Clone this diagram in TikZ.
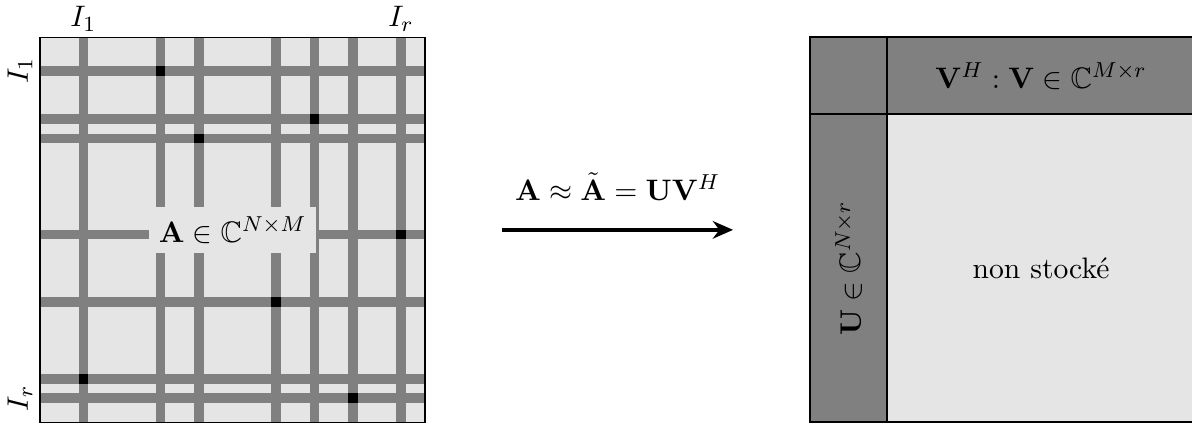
\documentclass[tikz,border=0pt,11pt]{standalone}
\usepackage{amssymb}
\usepackage{amsmath}
\usetikzlibrary{arrows.meta, positioning, calc}

\begin{document}
\begin{tikzpicture}[x=0.5cm, y=0.5cm,
        bande/.style={fill=gray},
        pivot/.style={fill=black},
        bloc/.style={draw=black, thick},
        fleche/.style={-{Stealth[length=7.5pt, width=6.5pt]}, line width=1.5pt}]
    \useasboundingbox (-1.04,-0.03) rectangle (29.92,10.97);
    % matrice complete A
    \fill[gray!20] (0,0) rectangle (10,10);
    \foreach \c in {1,3,4,6,7,8,9.25} \fill[bande] (\c,0) rectangle ++(0.25,10);
    \foreach \r in {0.5,1,3,4.75,7.25,7.75,9} \fill[bande] (0,\r) rectangle ++(10,0.25);
    \foreach \c/\r in {3/9, 7/7.75, 4/7.25, 9.25/4.75, 6/3, 1/1, 8/0.5}
        \fill[pivot] (\c,\r) rectangle ++(0.25,0.25);
    \draw[semithick] (0,0) rectangle (10,10);
    \node[fill=gray!20] (matA) at (5,5) {$\mathbf{A}\in\mathbb{C}^{N\times M}$};
    \node[anchor=base] (colI1) at (1.125,10.27) {$I_1$};
    \node[anchor=base] (colIr) at (9.375,10.27) {$I_r$};
    \node[rotate=90] (ligI1) at (-0.52,9.125) {$I_1$};
    \node[rotate=90] (ligIr) at (-0.52,0.625) {$I_r$};
    % approximation
    \coordinate (dep) at (12,5);
    \coordinate (arr) at (18,5);
    \draw[fleche] (dep) -- node[above=6.5pt] (approx) {$\mathbf{A}\approx\tilde{\mathbf{A}}=\mathbf{U}\mathbf{V}^H$} (arr);
    % matrice compressee
    \fill[gray] (20,0) rectangle (30,10);
    \fill[gray!20] (22,0) rectangle (30,8);
    \draw[bloc] (20,0) rectangle (30,10);
    \draw[bloc] (22,0) -- (22,10);
    \draw[bloc] (20,8) -- (30,8);
    \node (matV) at (26,9) {$\mathbf{V}^H:\mathbf{V}\in\mathbb{C}^{M\times r}$};
    \node[rotate=90] (matU) at (21,4) {$\mathbf{U}\in\mathbb{C}^{N\times r}$};
    \node (reste) at (26,4) {non stocké};
\end{tikzpicture}
\end{document}
